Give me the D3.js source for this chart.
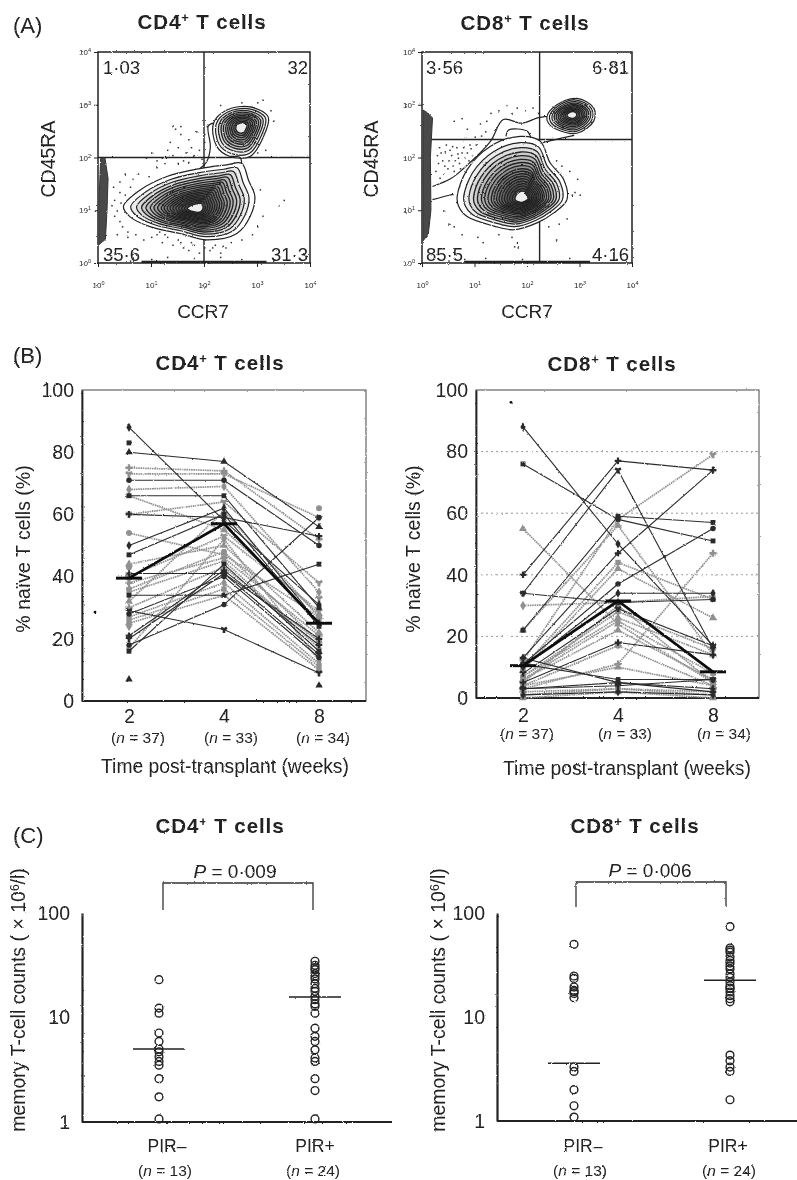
<!DOCTYPE html>
<html><head><meta charset="utf-8">
<script src="https://cdn.jsdelivr.net/npm/d3@7/dist/d3.min.js"></script>
<style>
html,body{margin:0;padding:0;background:#fff}
svg{display:block}
text{font-family:"Liberation Sans",Arial,sans-serif;fill:#222}
</style></head><body>
<svg id="fig" width="797" height="1180">
<defs>
<filter id="scan" x="0" y="0" width="100%" height="100%" filterUnits="userSpaceOnUse" primitiveUnits="userSpaceOnUse">
<feTurbulence type="fractalNoise" baseFrequency="0.9" numOctaves="2" seed="4" result="n"/>
<feDisplacementMap in="SourceGraphic" in2="n" scale="2" xChannelSelector="R" yChannelSelector="G" result="d"/>
<feGaussianBlur in="d" stdDeviation="0.35"/>
</filter>
</defs>
</svg>
<script>
// ---------- Panel A: flow cytometry, all coordinates in log10 decades ----------
const cd4MainOutline=[[.48,1.07],[.79,1.38],[1.30,1.64],[1.92,1.79],[2.43,1.86],[2.71,1.89],[2.84,1.57],[2.96,1.26],[2.87,.88],[2.62,.56],[2.05,.44],[1.55,.56],[.98,.69],[.60,.88]];
const cd4MainCentre=[1.85,1.03];
const cd4UpperOutline=[[2.18,2.65],[2.43,2.90],[2.87,2.96],[3.21,2.77],[3.12,2.39],[2.87,2.02],[2.49,2.02],[2.24,2.21]];
const cd4UpperCentre=[2.71,2.58];
const cd4Bridges=[[[1.92,1.79],[2.05,1.92],[2.12,2.2],[2.08,2.6],[2.18,2.65]],[[2.71,1.89],[2.68,2.0],[2.49,2.02]]];
const cd4Stripe=[[.02,.35],[.14,.45],[.17,1.0],[.19,1.6],[.13,2.0],[.05,1.98],[.02,1.2]];
const cd4Dots=[[.9,2.0],[1.0,2.1],[1.1,1.95],[1.2,2.0],[1.3,2.15],[1.35,2.3],[1.4,2.05],[1.5,2.2],[1.55,2.45],[1.55,2.6],[1.6,1.95],[1.65,2.1],[1.7,2.35],[1.75,2.2],[1.8,2.05],[1.85,2.5],[1.9,2.15],[1.95,1.98],[2.0,2.45],[2.05,2.6],[2.0,2.3],[1.45,2.55],[1.4,2.6],[1.1,1.82],[.65,1.6],[.4,1.55],[.5,1.7],[.75,1.7],[.95,1.65],[.6,1.45],[.3,1.2],[.35,1.0],[.4,.8],[.3,.9],[.45,.7],[.55,.6],[.5,1.3],[.25,1.1],[.4,1.35],[.55,.5],[.7,.55],[.85,.45],[1.0,.5],[1.1,.55],[1.2,.4],[1.3,.5],[1.4,.35],[1.5,.45],[1.6,.3],[1.7,.25],[1.8,.35],[1.9,.2],[2.0,.3],[2.1,.25],[2.2,.35],[2.3,.2],[2.4,.3],[2.5,.4],[2.7,.45],[2.9,.55],[3.0,.7],[3.1,.9],[3.4,1.1],[3.5,1.2],[3.05,1.4],[3.0,3.05],[3.1,3.1],[2.7,3.05],[3.3,2.7],[3.25,2.9],[2.3,3.0],[3.15,2.15],[3.0,2.1],[.6,.05],[1.0,.08],[1.3,.12],[1.8,.1],[2.3,.12],[2.7,.08],[3.3,.05],[1.15,.6],[1.25,.55],[1.55,.4],[1.75,.4],[2.15,.3],[2.35,.33],[.35,.55],[.28,1.45],[.42,1.15],[1.25,1.9],[1.5,1.9],[1.7,1.92]];
const cd4EdgeRun=[.82,3.18];
const cd4Gates=[2,2.0];
const cd4QuadLabels=["1·03","32","35·6","31·3"];

const cd8MainOutline=[[.67,1.26],[.86,1.77],[1.30,2.21],[1.87,2.40],[2.25,2.31],[2.44,1.90],[2.70,1.58],[2.76,1.20],[2.51,.95],[2.19,.76],[1.75,.63],[1.37,.70],[.86,.88],[.70,1.07]];
const cd8MainCentre=[1.92,1.22];
const cd8UpperOutline=[[2.38,2.78],[2.57,3.00],[2.95,3.12],[3.27,2.94],[3.27,2.69],[2.95,2.46],[2.57,2.53],[2.41,2.65]];
const cd8UpperCentre=[2.86,2.81];
const cd8Bridges=[[[.2,1.45],[.55,1.6],[.8,1.8],[1.3,2.3],[1.55,2.72],[1.9,2.65],[2.2,2.75],[2.38,2.78]],[[.2,1.2],[.5,1.28],[.6,1.3]],[[1.6,2.4],[1.65,2.52],[2.0,2.5],[2.07,2.38]],[[2.3,2.28],[2.45,2.32],[2.9,2.42]]];
const cd8Stripe=[[.02,.42],[.12,.55],[.17,1.0],[.16,2.0],[.2,2.75],[.1,2.85],[.02,2.9]];
const cd8Dots=[[.3,1.9],[.35,2.1],[.4,1.7],[.45,2.25],[.5,1.95],[.55,2.05],[.6,1.75],[.65,2.2],[.7,1.9],[.75,2.1],[.8,2.0],[.42,1.85],[.32,2.2],[.58,1.85],[.68,2.0],[.85,2.1],[.92,2.18],[.9,2.25],[.6,2.7],[.75,2.75],[.85,2.55],[1.0,2.4],[1.1,2.65],[1.2,2.5],[1.3,2.85],[1.45,2.9],[1.6,3.0],[1.7,2.85],[1.8,2.95],[1.95,2.9],[2.1,2.95],[2.2,2.85],[2.25,2.1],[2.55,1.95],[2.65,1.85],[2.8,1.75],[2.95,1.6],[2.9,1.35],[2.85,1.3],[3.0,1.3],[2.75,.85],[2.6,.75],[2.4,.7],[.4,1.0],[.5,.75],[.6,.7],[.75,.55],[1.05,.5],[1.15,.4],[1.45,.55],[1.7,.5],[1.8,.4],[1.75,.32],[1.82,.3],[2.55,.45],[.5,.05],[.8,.08],[1.2,.1],[1.9,.08],[2.8,.1],[3.7,.08],[.25,1.75],[.28,2.05],[.38,1.95],[.48,1.8],[.52,2.15],[.62,1.95],[.72,1.8],[.78,2.2],[.88,1.95],[.95,2.05],[1.02,2.25],[.33,1.62],[.43,2.12],[.57,2.22],[.67,2.08],[1.12,2.42],[1.22,2.7]];
const cd8EdgeRun=[.82,3.2];
const cd8Gates=[2.24,2.34];
const cd8QuadLabels=["3·56","6·81","85·5","4·16"];

const decadeTicks=[0,1,2,3,4];
const contourLevels=[1,.9,.82,.75,.69,.63,.58,.53,.48,.44,.4,.36,.32,.28,.24,.2,.16,.12];
const upperLevels=[1,.9,.8,.71,.63,.55,.48,.41,.34,.27,.2];

// ---------- Panel B: % naive T cells per patient ----------
const weeks=["2","4","8"];
const weekN=["(n = 37)","(n = 33)","(n = 34)"];
const pctTicks=[0,20,40,60,80,100];
const cd4w2=[88,83,80,75,73,71,68,66,66,60,60,54,50,47,44,41,40,36,35,34,32,30,29,28,27,26,25,21,20,18,17,16,7,38,39,43,24];
const cd4w4=[58,null,77,74,73,71,69,66,55,59,64,47,62,60,50,41,53,48,45,34,61,43,23,40,38,36,34,42,41,31,52,44,null,46,null,null,null];
const cd4w8=[31,null,56,52,59,50,35,30,28,53,38,27,25,24,22,20,29,19,17,44,27,19,9,14,12,11,10,18,15,59,13,16,5,21,33,62,26];
const cd4Tone=["d","d","d","l","l","d","l","d","l","d","l","l","d","d","l","d","l","l","l","d","l","l","d","d","l","l","l","d","d","d","l","d","d","l","l","l","l"];
const cd4Means=[39.5,57,25];
const cd4Stray=[28.6];

const cd8w2=[88,76,55,40,34,34,30,22,22,13,12,11,10,10,9,3,8,7,7,6,6,5,5,4,13,11,4,3,3,2,1,1,0,2,3,11,6];
const cd8w4=[50,58,24,77,74,31,31,59,56,47,58,37,34,44,42,11,29,28,26,25,22,18,30,17,5,6,10,5,4,3,2,3,2,null,null,null,null];
const cd8w8=[17,51,5,74,16,32,33,57,14,74,79,55,34,32,26,47,17,16,14,8,6,14,5,4,3,6,4,2,6,2,1,1,0,3,3,null,null];
const cd8Tone=["d","d","l","d","d","d","l","d","l","d","l","d","d","l","l","l","d","l","l","l","l","d","l","l","d","d","l","d","d","l","d","l","l","l","l","l","l"];
const cd8Means=[10.5,31.5,8.5];
const cd8Grid=[20,40,60,80];
const cd8Stray=[96];

// ---------- Panel C: memory T-cell counts ----------
const pirGroups=["PIR–","PIR+"];
const pirN=["(n = 13)","(n = 24)"];
const logTicks=[1,10,100];
const cd4PirNeg=[23,12.3,11,7.1,5.9,5,4.7,4.2,3.8,3.5,2.6,1.74,1.07];
const cd4PirPos=[34.5,31.6,30,28.7,26.3,25,23.4,21,19,17.8,16,14.8,13.5,12.8,11,7.9,6.6,5.9,4.9,4.1,3.8,2.6,2,1.07];
const cd4PirMeans=[5,15.7];
const cd8PirNeg=[50,24.8,23.5,19.4,18,17.5,16.8,15.3,3.3,3,2,1.4,1.09];
const cd8PirPos=[74,46,44,42,38,35,33,31,29,26,24,21.7,20,19,18.7,17.4,16,15,14,4.3,3.8,3.3,3,1.6];
const cd8PirMeans=[3.6,22.5];

const root=d3.select("#fig").append("g").attr("filter","url(#scan)");
root.append("rect").attr("width",797).attr("height",1180).attr("fill","#fff");
const svg=root;
const ink="#222";

function txt(g,x,y,s,size,o={}){
  const t=g.append("text").attr("x",x).attr("y",y).attr("font-size",size)
    .attr("text-anchor",o.anchor||"middle").attr("font-weight",o.bold?"bold":null);
  if(o.rot!==undefined) t.attr("transform",`rotate(${o.rot} ${x} ${y})`);
  return t.text(s);
}
function title(x,y,cd){
  const t=svg.append("text").attr("x",x).attr("y",y).attr("font-size",20.5).attr("font-weight","bold").attr("text-anchor","middle").attr("letter-spacing",.9);
  t.append("tspan").text("CD"+cd);
  t.append("tspan").text("+").attr("font-size",13).attr("dy",-7);
  t.append("tspan").text(" T cells").attr("dy",7);
}
function nLabel(x,y,s){
  const t=svg.append("text").attr("x",x).attr("y",y).attr("font-size",15.5).attr("text-anchor","middle");
  const m=s.match(/^\((n)( = \d+\))$/);
  t.append("tspan").text("(");
  t.append("tspan").text(m[1]).attr("font-style","italic");
  t.append("tspan").text(m[2]);
}

// ---------- Panel A ----------
function flow(o){
  const g=svg.append("g");
  const x=d3.scaleLinear().domain([0,4]).range(o.xr), y=d3.scaleLinear().domain([0,4]).range(o.yr);
  const closed=d3.line().x(d=>x(d[0])).y(d=>y(d[1])).curve(d3.curveCatmullRomClosed);
  const stripeLine=d3.line().x(d=>x(d[0])).y(d=>y(d[1])).curve(d3.curveLinearClosed);
  const open=d3.line().x(d=>x(d[0])).y(d=>y(d[1])).curve(d3.curveCatmullRom);
  g.append("rect").attr("x",o.xr[0]).attr("y",o.yr[1]).attr("width",o.xr[1]-o.xr[0]).attr("height",o.yr[0]-o.yr[1])
    .attr("fill","none").attr("stroke",ink).attr("stroke-width",1.5);
  g.append("line").attr("x1",x(o.gates[0])).attr("x2",x(o.gates[0])).attr("y1",y(0)).attr("y2",y(4)).attr("stroke",ink).attr("stroke-width",1.4);
  g.append("line").attr("x1",x(o.stripeEnd)).attr("x2",x(4)).attr("y1",y(o.gates[1])).attr("y2",y(o.gates[1])).attr("stroke",ink).attr("stroke-width",1.5);
  g.append("path").attr("d",stripeLine(o.stripe)).attr("fill","#4a4a4a").attr("stroke","#333").attr("stroke-width",1);
  g.selectAll(".d").data(o.dots).join("rect").attr("x",d=>x(d[0])).attr("y",d=>y(d[1])).attr("width",1.5).attr("height",1.5).attr("fill","#333");
  g.append("line").attr("x1",x(o.edge[0])).attr("x2",x(o.edge[1])).attr("y1",y(.02)).attr("y2",y(.02)).attr("stroke",ink).attr("stroke-width",2.2);
  const rings=(outline,c,levels)=>levels.forEach((k,i)=>{
    const last=i==levels.length-1;
    g.append("path").attr("d",closed(outline.map(p=>[c[0]+(p[0]-c[0])*k,c[1]+(p[1]-c[1])*k])))
     .attr("fill",i==0?"#fff":last?"#eee":"#000").attr("fill-opacity",i==0||last?1:.07).attr("stroke","#222").attr("stroke-width",i<3?1.2:1.35);
  });
  rings(o.main,o.mainC,contourLevels);
  rings(o.upper,o.upperC,upperLevels);
  o.bridges.forEach(b=>g.append("path").attr("d",open(b)).attr("fill","none").attr("stroke","#222").attr("stroke-width",1.2));
  txt(g,o.ql,74,o.q[0],18.5,{anchor:"start"});
  txt(g,o.qr,74,o.q[1],18.5,{anchor:"end"});
  txt(g,o.ql,261,o.q[2],18.5,{anchor:"start"});
  txt(g,o.qr,261,o.q[3],18.5,{anchor:"end"});
  const sup=(a)=>a.selectAll(".tick text").each(function(d){
    d3.select(this).text("10").attr("font-size",8).append("tspan").text(d).attr("font-size",5.5).attr("dy",-3);
  });
  const ax=g.append("g").attr("transform",`translate(0,${o.yr[0]})`).call(d3.axisBottom(x).tickValues(decadeTicks).tickSize(4).tickPadding(15));
  ax.selectAll(".domain").remove(); ax.selectAll(".tick line").attr("stroke",ink); sup(ax);
  const ay=g.append("g").attr("transform",`translate(${o.xr[0]},0)`).call(d3.axisLeft(y).tickValues(decadeTicks).tickSize(4).tickPadding(3));
  ay.selectAll(".domain").remove(); ay.selectAll(".tick line").attr("stroke",ink); sup(ay);
  txt(g,o.cx,318,"CCR7",19);
  txt(g,o.lx,159,"CD45RA",19.5,{rot:-90});
}
flow({xr:[98,310],yr:[263,52],main:cd4MainOutline,mainC:cd4MainCentre,upper:cd4UpperOutline,upperC:cd4UpperCentre,bridges:cd4Bridges,stripe:cd4Stripe,dots:cd4Dots,edge:cd4EdgeRun,gates:cd4Gates,q:cd4QuadLabels,ql:103,qr:308,cx:203,lx:55,stripeEnd:0});
flow({xr:[422,632],yr:[263,52],main:cd8MainOutline,mainC:cd8MainCentre,upper:cd8UpperOutline,upperC:cd8UpperCentre,bridges:cd8Bridges,stripe:cd8Stripe,dots:cd8Dots,edge:cd8EdgeRun,gates:cd8Gates,q:cd8QuadLabels,ql:426,qr:629,cx:527,lx:378,stripeEnd:.1});

// ---------- Panel B ----------
function spaghetti(o){
  const g=svg.append("g");
  const x=d3.scalePoint().domain(weeks).range(o.xr), y=d3.scaleLinear().domain([0,100]).range(o.yr);
  g.append("rect").attr("x",o.box[0]).attr("y",o.yr[1]).attr("width",o.box[1]-o.box[0]).attr("height",o.yr[0]-o.yr[1])
    .attr("fill","none").attr("stroke","#555").attr("stroke-width",1.1);
  (o.grid||[]).forEach(v=>g.append("line").attr("x1",o.box[0]).attr("x2",o.box[1]).attr("y1",y(v)).attr("y2",y(v)).attr("stroke","#999").attr("stroke-dasharray","2 3"));
  const ay=g.append("g").attr("transform",`translate(${o.box[0]},0)`).call(d3.axisLeft(y).tickValues(pctTicks).tickSize(0).tickPadding(8));
  ay.selectAll("text").attr("font-size",19.5); ay.selectAll(".domain").attr("stroke",ink).attr("stroke-width",1.8);
  const ax=g.append("g").attr("transform",`translate(0,${o.yr[0]})`).call(d3.axisBottom(x).tickSize(0).tickPadding(o.xPad));
  ax.selectAll("text").attr("font-size",19.5); ax.selectAll(".domain").attr("d",`M${o.box[0]},0H${o.box[1]}`).attr("stroke",ink).attr("stroke-width",1.8);
  const line=d3.line().defined(d=>d[1]!==null).x(d=>x(d[0])).y(d=>y(d[1]));
  const rows=o.w2.map((v,i)=>({v:[v,o.w4[i],o.w8[i]],tone:o.tone[i],i}));
  const syms=[d3.symbolDiamond,d3.symbolSquare,d3.symbolTriangle,d3.symbolCross,d3.symbolWye,d3.symbolCircle];
  const sorted=rows.slice().sort((a,b)=>(a.tone=="d")-(b.tone=="d"));
  sorted.forEach(r=>{
    const c=r.tone=="d"?"#2c2c2c":"#909090";
    const pts=weeks.map((w,k)=>[w,r.v[k]]);
    g.append("path").attr("d",line(pts)).attr("fill","none").attr("stroke",c).attr("stroke-width",r.tone=="d"?1.1:1.7).attr("stroke-dasharray",r.tone=="d"?null:"1.6 .7");
    pts.filter(p=>p[1]!==null).forEach(p=>{
      g.append("path").attr("d",d3.symbol().type(syms[r.i%6]).size(r.tone=="d"?24:28)()).attr("transform",`translate(${x(p[0])},${y(p[1])})`).attr("fill",c);
    });
  });
  const mp=weeks.map((w,k)=>[w,o.means[k]]);
  g.append("path").attr("d",line(mp)).attr("fill","none").attr("stroke","#111").attr("stroke-width",2.8);
  mp.forEach(p=>g.append("line").attr("x1",x(p[0])-13).attr("x2",x(p[0])+13).attr("y1",y(p[1])).attr("y2",y(p[1])).attr("stroke","#111").attr("stroke-width",3));
  o.stray.forEach(v=>g.append("circle").attr("cx",x("2")+o.strayOff).attr("cy",y(v)).attr("r",1.4).attr("fill","#111"));
  weeks.forEach((w,k)=>nLabel(x(w)+o.nOff[k],o.nY,weekN[k]));
  txt(g,o.tx,o.tY,"Time post-transplant (weeks)",19.3);
  txt(g,o.lx,549,"% naïve T cells (%)",19.5,{rot:-90});
}
spaghetti({xr:[129,319],yr:[701,390],box:[82,366],w2:cd4w2,w4:cd4w4,w8:cd4w8,tone:cd4Tone,means:cd4Means,stray:cd4Stray,strayOff:-34,xPad:8,nOff:[9,7,4],nY:743,tx:225,tY:773,lx:30});
spaghetti({xr:[523,713],yr:[698,390],box:[476,759],w2:cd8w2,w4:cd8w4,w8:cd8w8,tone:cd8Tone,means:cd8Means,stray:cd8Stray,strayOff:-12,grid:cd8Grid,xPad:10,nOff:[4,7,11],nY:739,tx:627,tY:775,lx:420});

// ---------- Panel C ----------
function counts(o){
  const g=svg.append("g");
  const x=d3.scalePoint().domain(pirGroups).range(o.xr), y=d3.scaleLog().domain([1,100]).range(o.yr);
  const ay=g.append("g").attr("transform",`translate(${o.ax},0)`).call(d3.axisLeft(y).tickValues(logTicks).tickFormat(d3.format("d")).tickSize(0).tickPadding(12));
  ay.selectAll("text").attr("font-size",19.5); ay.selectAll(".domain").attr("stroke",ink).attr("stroke-width",2.2);
  const ax=g.append("g").attr("transform",`translate(0,${o.yr[0]})`).call(d3.axisBottom(x).tickSize(0).tickFormat(""));
  ax.selectAll(".domain").attr("d",`M${o.ax},0H${o.end}`).attr("stroke",ink).attr("stroke-width",2.2);
  [o.neg,o.pos].forEach((arr,k)=>{
    g.selectAll(null).data(arr).join("circle").attr("cx",x(pirGroups[k])).attr("cy",d=>y(d)).attr("r",3.9)
      .attr("fill","none").attr("stroke","#222").attr("stroke-width",1.4);
    g.append("line").attr("x1",x(pirGroups[k])-26).attr("x2",x(pirGroups[k])+26).attr("y1",y(o.means[k])).attr("y2",y(o.means[k])).attr("stroke","#222").attr("stroke-width",1.5);
    txt(g,o.gx[k],1152,pirGroups[k],17.5);
    nLabel(o.nx[k],1176,pirN[k]);
  });
  g.append("path").attr("d",d3.line()([[o.br[0],o.br[3]],[o.br[0],o.br[2]],[o.br[1],o.br[2]],[o.br[1],o.br[3]]])).attr("fill","none").attr("stroke","#333").attr("stroke-width",1.3);
  const p=g.append("text").attr("x",(o.br[0]+o.br[1])/2+o.pOff).attr("y",o.br[2]-5).attr("font-size",19).attr("text-anchor","middle");
  p.append("tspan").text("P").attr("font-style","italic"); p.append("tspan").text(" = "+o.p);
  const t=g.append("text").attr("transform",`translate(${o.lx},1000) rotate(-90)`).attr("font-size",19.5).attr("text-anchor","middle");
  t.append("tspan").text("memory T-cell counts ( × 10");
  t.append("tspan").text("6").attr("font-size",12).attr("dy",-6);
  t.append("tspan").text("/l)").attr("dy",6);
}
counts({xr:[159,315],yr:[1122,913],ax:82,end:392,neg:cd4PirNeg,pos:cd4PirPos,means:cd4PirMeans,gx:[167,315],nx:[165,313],br:[163,313,883,910],p:"0·009",pOff:-3,lx:25});
counts({xr:[574,730],yr:[1121,913],ax:497,end:797,neg:cd8PirNeg,pos:cd8PirPos,means:cd8PirMeans,gx:[583,728],nx:[580,729],br:[576,726,882,907],p:"0·006",pOff:-1,lx:445});

// ---------- Titles and panel letters ----------
title(202,29,4);title(525,30,8);
title(220,370,4);title(612,371,8);
title(220,833,4);title(635,833,8);
txt(svg,13,33,"(A)",22,{anchor:"start"});
txt(svg,13,363,"(B)",22,{anchor:"start"});
txt(svg,13,843,"(C)",22,{anchor:"start"});
</script>
</body></html>
